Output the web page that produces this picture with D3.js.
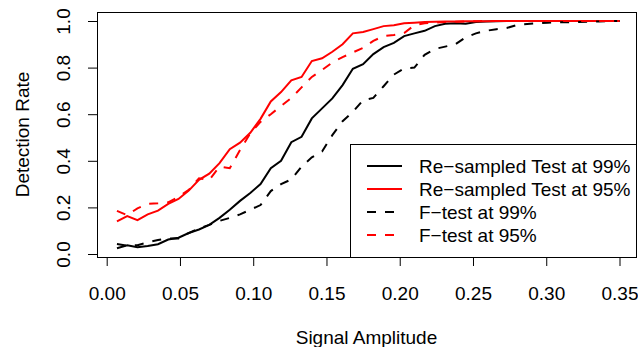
<!DOCTYPE html>
<html>
<head>
<meta charset="utf-8">
<script src="https://cdn.jsdelivr.net/npm/d3@7"></script>
<style>
  body { margin: 0; background: #fff; }
  svg { display: block; font-family: "Liberation Sans", Arial, sans-serif; }
  .axis text { font-size: 19px; fill: #000; }
  .axis line, .axis path { stroke: #000; }
</style>
</head>
<body>
<svg width="638" height="347"></svg>
<script>
// signal amplitudes
const amplitudes = [0.007, 0.014, 0.021, 0.028, 0.035, 0.042, 0.049, 0.056, 0.063, 0.070,
  0.077, 0.084, 0.091, 0.098, 0.105, 0.112, 0.119, 0.126, 0.133, 0.140,
  0.147, 0.154, 0.161, 0.168, 0.175, 0.182, 0.189, 0.196, 0.203, 0.210,
  0.217, 0.224, 0.231, 0.238, 0.245, 0.252, 0.259, 0.266, 0.273, 0.280,
  0.287, 0.294, 0.301, 0.308, 0.315, 0.322, 0.329, 0.336, 0.343, 0.350];

const resampled99 = [0.025, 0.037, 0.029, 0.034, 0.042, 0.062, 0.070, 0.090, 0.105, 0.125,
  0.155, 0.190, 0.228, 0.262, 0.300, 0.368, 0.400, 0.480, 0.503, 0.582,
  0.625, 0.668, 0.725, 0.795, 0.815, 0.858, 0.888, 0.906, 0.935, 0.947,
  0.958, 0.978, 0.988, 0.990, 0.988, 0.996, 0.998, 0.999, 1, 1,
  1, 1, 1, 1, 1, 1, 1, 1, 1, 1];

const resampled95 = [0.140, 0.163, 0.145, 0.170, 0.186, 0.215, 0.236, 0.272, 0.318, 0.345,
  0.390, 0.450, 0.478, 0.520, 0.580, 0.655, 0.695, 0.745, 0.760, 0.828,
  0.840, 0.868, 0.900, 0.947, 0.953, 0.965, 0.978, 0.982, 0.990, 0.993,
  0.996, 0.997, 0.998, 0.998, 0.999, 0.999, 0.999, 1, 1, 1,
  1, 1, 1, 1, 1, 1, 1, 1, 1, 1];

const ftest99 = [0.043, 0.036, 0.038, 0.050, 0.060, 0.067, 0.067, 0.090, 0.110, 0.125,
  0.142, 0.155, 0.170, 0.190, 0.210, 0.270, 0.300, 0.320, 0.375, 0.415,
  0.440, 0.510, 0.570, 0.610, 0.660, 0.670, 0.720, 0.770, 0.797, 0.800,
  0.855, 0.880, 0.890, 0.900, 0.930, 0.947, 0.958, 0.965, 0.970, 0.983,
  0.987, 0.990, 0.993, 0.994, 0.995, 0.996, 0.997, 0.998, 0.999, 1];

const ftest95 = [0.185, 0.167, 0.196, 0.215, 0.218, 0.222, 0.245, 0.275, 0.325, 0.318,
  0.375, 0.368, 0.446, 0.518, 0.567, 0.600, 0.635, 0.670, 0.715, 0.760,
  0.790, 0.822, 0.845, 0.865, 0.885, 0.915, 0.935, 0.940, 0.948, 0.982,
  0.990, 0.993, 0.996, 0.997, 0.998, 0.999, 1, 1, 1, 1,
  1, 1, 1, 1, 1, 1, 1, 1, 1, 1];

const xTicks = [0, 0.05, 0.10, 0.15, 0.20, 0.25, 0.30, 0.35];
const yTicks = [0, 0.2, 0.4, 0.6, 0.8, 1.0];

const seriesNames = ["Re\u2212sampled Test at 99%", "Re\u2212sampled Test at 95%", "F\u2212test at 99%", "F\u2212test at 95%"];
const seriesValues = [resampled99, resampled95, ftest99, ftest95];
const seriesColors = ["#000", "#ff0000", "#000", "#ff0000"];
const seriesDashed = [false, false, true, true];

const svg = d3.select("svg");
const box = { left: 97, top: 12, right: 636, bottom: 257 };

const x = d3.scaleLinear().domain([0, 0.35]).range([106.7, 619.5]);
const y = d3.scaleLinear().domain([0, 1]).range([254, 21]);

// x axis
const gx = svg.append("g")
    .attr("class", "axis")
    .attr("transform", `translate(0,${box.bottom})`)
    .call(d3.axisBottom(x).tickValues(xTicks).tickFormat(d3.format(".2f")).tickSize(9).tickSizeOuter(0));
gx.selectAll("text").attr("y", 42.5).attr("dy", 0);

// y axis, labels turned like R does
const gy = svg.append("g")
    .attr("class", "axis")
    .attr("transform", `translate(${box.left},0)`)
    .call(d3.axisLeft(y).tickValues(yTicks).tickFormat(d3.format(".1f")).tickSize(9).tickSizeOuter(0));
gy.selectAll("text")
    .attr("x", 0).attr("dy", 0)
    .attr("text-anchor", "middle")
    .attr("transform", "translate(-27.5,0) rotate(-90)");

// lines
const line = d3.line()
    .x((d, i) => x(amplitudes[i]))
    .y(d => y(d));

seriesValues.forEach((vals, i) => {
    svg.append("path")
        .datum(vals)
        .attr("d", line)
        .attr("fill", "none")
        .attr("stroke", seriesColors[i])
        .attr("stroke-width", 2)
        .attr("stroke-dasharray", seriesDashed[i] ? "9,9" : null);
});

// plot frame
svg.append("rect")
    .attr("x", box.left + 0.5)
    .attr("y", box.top + 0.5)
    .attr("width", box.right - box.left)
    .attr("height", box.bottom - box.top)
    .attr("fill", "none")
    .attr("stroke", "#000");

// legend
const legend = svg.append("g");
legend.append("rect")
    .attr("x", 350.5).attr("y", 144.5)
    .attr("width", 286).attr("height", 113)
    .attr("fill", "#fff")
    .attr("stroke", "#000");

seriesNames.forEach((name, i) => {
    const ly = 166 + i * 23;
    legend.append("line")
        .attr("x1", 367).attr("x2", 402)
        .attr("y1", ly).attr("y2", ly)
        .attr("stroke", seriesColors[i])
        .attr("stroke-width", 2)
        .attr("stroke-dasharray", seriesDashed[i] ? "9,9" : null);
    legend.append("text")
        .attr("x", 419).attr("y", ly + 6.5)
        .attr("font-size", "19px")
        .text(name);
});

// axis titles
svg.append("text")
    .attr("x", (box.left + box.right) / 2)
    .attr("y", 344)
    .attr("text-anchor", "middle")
    .attr("font-size", "19px")
    .text("Signal Amplitude");

svg.append("text")
    .attr("transform", `translate(28.5,${(box.top + box.bottom) / 2}) rotate(-90)`)
    .attr("text-anchor", "middle")
    .attr("font-size", "19px")
    .text("Detection Rate");
</script>
</body>
</html>
